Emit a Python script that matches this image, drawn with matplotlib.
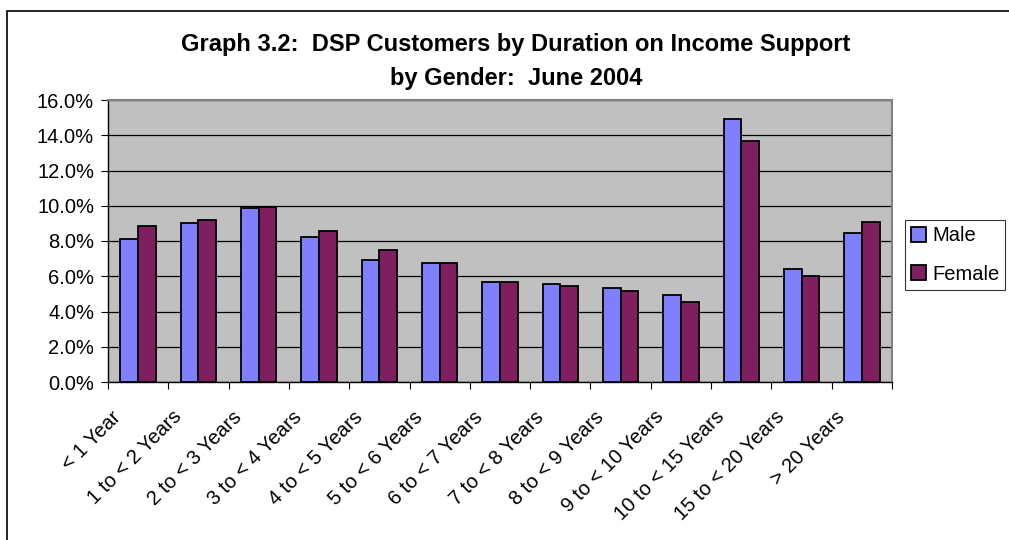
import numpy as np
import matplotlib
matplotlib.use("Agg")
import matplotlib.pyplot as plt
import matplotlib.transforms as mtransforms
from matplotlib.patches import Rectangle
from matplotlib.ticker import FuncFormatter, MultipleLocator

# Duration categories and percentages
categories = ["< 1 Year", "1 to < 2 Years", "2 to < 3 Years", "3 to < 4 Years",
              "4 to < 5 Years", "5 to < 6 Years", "6 to < 7 Years", "7 to < 8 Years",
              "8 to < 9 Years", "9 to < 10 Years", "10 to < 15 Years",
              "15 to < 20 Years", "> 20 Years"]
male = [8.1, 9.0, 9.85, 8.25, 6.95, 6.75, 5.65, 5.55, 5.35, 4.95, 14.95, 6.4, 8.45]
female = [8.85, 9.2, 9.95, 8.55, 7.5, 6.75, 5.65, 5.45, 5.15, 4.55, 13.7, 6.0, 9.1]

plt.rcParams['font.family'] = ['Liberation Sans', 'DejaVu Sans']

W, H = 1009, 540
fig = plt.figure(figsize=(W / 100, H / 100), dpi=100)

# chart area border (runs off right and bottom edges)
fig.patches.append(Rectangle((7 / W, -0.1), 1.2, 1 - 11 / H + 0.1, transform=fig.transFigure,
                             fill=False, edgecolor='black', linewidth=1.2))

left, right, top, bottom = 108, 892, 100, 382
ax = fig.add_axes([left / W, 1 - bottom / H, (right - left) / W, (bottom - top) / H])
ax.set_facecolor('#C0C0C0')

x = np.arange(len(categories))
bw = 0.293
ax.bar(x - bw / 2, male, bw, color='#8080FF', edgecolor='black', linewidth=1.3, label='Male', zorder=3)
ax.bar(x + bw / 2, female, bw, color='#801F5F', edgecolor='black', linewidth=1.3, label='Female', zorder=3)

ax.set_xlim(-0.5, len(categories) - 0.5)
ax.set_ylim(0, 16)
ax.yaxis.set_major_locator(MultipleLocator(2))
ax.yaxis.set_major_formatter(FuncFormatter(lambda v, p: f"{v:.1f}%"))
ax.grid(axis='y', color='black', linewidth=0.9, zorder=1)

for s in ['top', 'right']:
    ax.spines[s].set_color('#808080')
    ax.spines[s].set_linewidth(1.5)
for s in ['left', 'bottom']:
    ax.spines[s].set_color('black')
    ax.spines[s].set_linewidth(1.0)

ax.set_xticks(np.arange(len(categories) + 1) - 0.5)
ax.set_xticklabels([])
ax.tick_params(axis='x', length=5, direction='out')
ax.tick_params(axis='y', length=5, direction='out', labelsize=14.5, pad=5)

# rotated category labels, end of text sits left of and below the category centre
off = mtransforms.ScaledTranslation(-20 / 100, -32 / 100, fig.dpi_scale_trans)
trans = mtransforms.blended_transform_factory(ax.transData, ax.transAxes) + off
for xi, lab in zip(x, categories):
    ax.text(xi, 0, lab, transform=trans, rotation=45, rotation_mode='anchor',
            ha='right', va='center', fontsize=14.5)

fig.text(516 / W, 1 - 44 / H, "Graph 3.2:  DSP Customers by Duration on Income Support",
         ha='center', va='center', fontsize=17, fontweight='bold')
fig.text(516 / W, 1 - 79 / H, "by Gender:  June 2004",
         ha='center', va='center', fontsize=17, fontweight='bold')

leg = fig.legend(loc='center left', bbox_to_anchor=(905 / W, 1 - 255 / H), fontsize=14.5,
                 frameon=True, fancybox=False, edgecolor='black', handlelength=0.75,
                 handleheight=0.75, handletextpad=0.3, borderpad=0.3, labelspacing=0.95,
                 borderaxespad=0)
leg.get_frame().set_linewidth(0.8)

fig.savefig("out.png", dpi=100)
